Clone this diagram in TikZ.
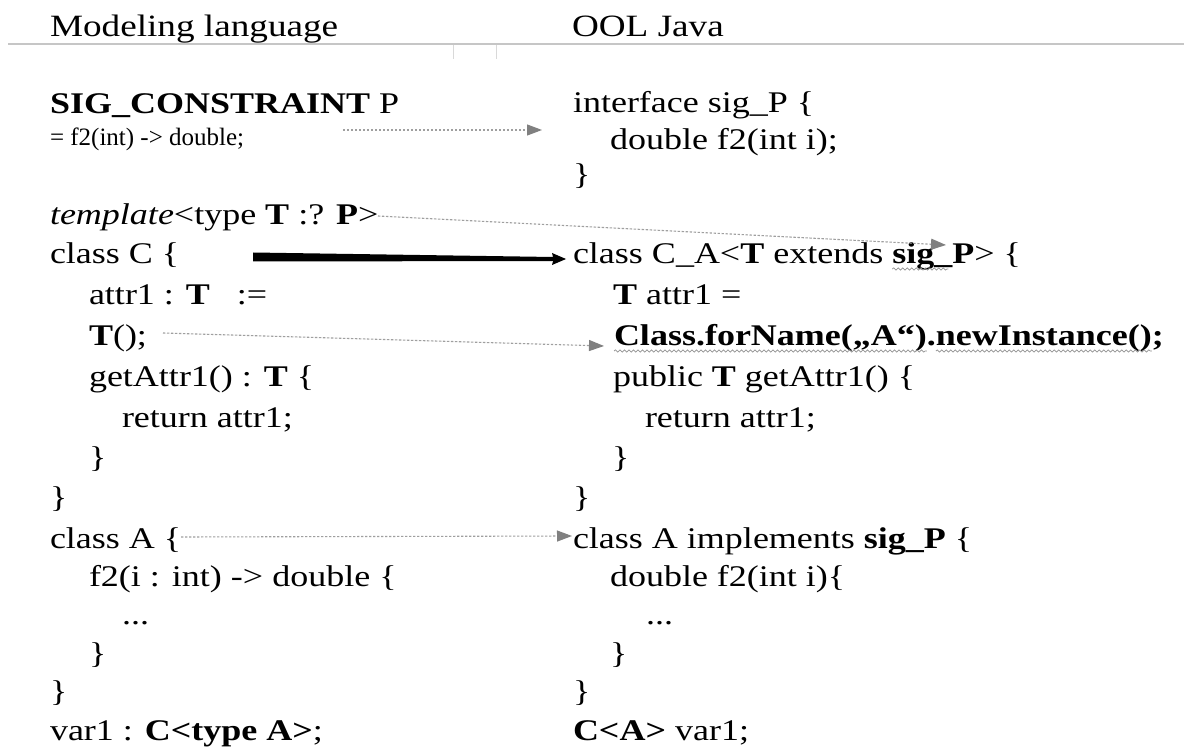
\documentclass[tikz,border=0pt]{standalone}
\usepackage{fontspec}
\setmainfont{Liberation Serif}[FakeStretch=1.2]
\newfontfamily\narrowserif{Liberation Serif}
\usetikzlibrary{arrows.meta,calc,decorations.pathmorphing}

\tikzset{
  code/.style={anchor=base west, inner sep=0pt, outer sep=0pt,
    font=\fontsize{30}{36}\selectfont},
  headline/.style={code, font=\fontsize{31}{38}\selectfont},
  smallcode/.style={code, font=\narrowserif\fontsize{25}{30}\selectfont},
  mapping/.style={draw=gray!75, line width=1.1pt, dash pattern=on 2.4pt off 1.6pt,
    -{Triangle[length=15pt,width=11pt,color=gray]}},
  squiggle/.style={draw=gray!85, line width=0.7pt, decorate,
    decoration={snake, amplitude=1.1pt, segment length=4.5pt}},
  rule/.style={draw=gray!45, line width=1.4pt}
}

\begin{document}
\begin{tikzpicture}[x=1pt, y=-1pt]
\useasboundingbox (0,0) rectangle (1184,751);
\fill[white] (0,0) rectangle (1184,751);

% table head
\node[headline] (hL) at (50,37) {Modeling language};
\node[headline] (hR) at (572,37) {OOL Java};
\draw[rule] (8,44) -- (1184,44);
\draw[rule, gray!30, line width=1pt] (453,45) -- (453,59);
\draw[rule, gray!30, line width=1pt] (496,45) -- (496,59);

% modeling language column
\node[code] (sig) at (50,114) {\textbf{SIG\_CONSTRAINT} P};
\node[smallcode] (sigb) at (50,146) {= f2(int) -> double;};
\node[code] (tpl) at (50,225) {\textit{template}<type \textbf{T} :? \textbf{P}>};
\node[code] (clsC) at (50,264) {class C \{};
\node[code] (attr) at (89,305) {attr1 : \textbf{T}\hspace{0.9em}:=};
\node[code] (ctor) at (89,346) {\textbf{T}();};
\node[code] (get) at (89,387) {getAttr1() : \textbf{T} \{};
\node[code] (ret) at (122,427) {return attr1;};
\node[code] (cb1) at (89,467) {\}};
\node[code] (cb2) at (50,507) {\}};
\node[code] (clsA) at (50,548) {class A \{};
\node[code] (f2) at (89,586) {f2(i : int) -> double \{};
\node[code] (dots) at (122,624) {...};
\node[code] (cb3) at (89,663) {\}};
\node[code] (cb4) at (50,701) {\}};
\node[code] (var) at (50,740) {var1 : \textbf{C<type A>};};

% Java column
\node[code] (ifc) at (573,113) {interface sig\_P \{};
\node[code] (ifm) at (610,150) {double f2(int i);};
\node[code] (ifb) at (573,185) {\}};
\node[code] (cCA) at (573,264) {class C\_A<\textbf{T} extends};
\node[code] (sigP) at ([xshift=9pt]cCA.base east) {\textbf{sig\_P}};
\node[code] (cCAr) at (sigP.base east) {> \{};
\node[code] (rA) at (613,305) {\textbf{T} attr1 =};
\node[code] (cfn) at (614,346) {\textbf{Class.forName(„A“)}};
\node[code] (cdot) at (cfn.base east) {\textbf{.}};
\node[code] (nin) at (cdot.base east) {\textbf{newInstance()}};
\node[code] (nend) at (nin.base east) {\textbf{;}};
\node[code] (pub) at (613,387) {public \textbf{T} getAttr1() \{};
\node[code] (rret) at (645,427) {return attr1;};
\node[code] (rcb1) at (612,467) {\}};
\node[code] (rcb2) at (573,507) {\}};
\node[code] (rclsA) at (573,548) {class A implements \textbf{sig\_P} \{};
\node[code] (rf2) at (610,586) {double f2(int i)\{};
\node[code] (rdots) at (646,624) {...};
\node[code] (rcb3) at (610,663) {\}};
\node[code] (rcb4) at (573,701) {\}};
\node[code] (rvar) at (573,740) {\textbf{C<A>} var1;};

% spelling squiggles
\draw[squiggle] ([yshift=-5pt]sigP.base west) -- ([xshift=-26pt,yshift=-5pt]sigP.base east);
\draw[squiggle] ([yshift=-5pt]cfn.base west) -- ([yshift=-5pt]cfn.base east);
\draw[squiggle] ([yshift=-5pt]nin.base west) -- ([yshift=-5pt]nin.base east);

% mapping arrows
\coordinate (m1s) at (343,130);  \coordinate (m1e) at (542,130);
\coordinate (m2s) at (378,216);  \coordinate (m2e) at (946,245);
\coordinate (m3s) at (253,257);  \coordinate (m3e) at (566,259);
\coordinate (m4s) at (163,333);  \coordinate (m4e) at (604,346);
\coordinate (m5s) at (181,537);  \coordinate (m5e) at (572,536);

\draw[mapping] (m1s) -- (m1e);
\draw[mapping] (m2s) -- (m2e);
\draw[mapping] (m4s) -- (m4e);
\draw[mapping] (m5s) -- (m5e);

% main translation arrow, tapering towards its head
\fill[black] ($(m3s)+(0,-4.5)$) -- ($(m3e)+(-13,-2)$) -- ($(m3e)+(-14,-6)$)
  -- (m3e) -- ($(m3e)+(-14,6)$) -- ($(m3e)+(-13,2)$) -- ($(m3s)+(0,4.5)$) -- cycle;
\end{tikzpicture}
\end{document}
